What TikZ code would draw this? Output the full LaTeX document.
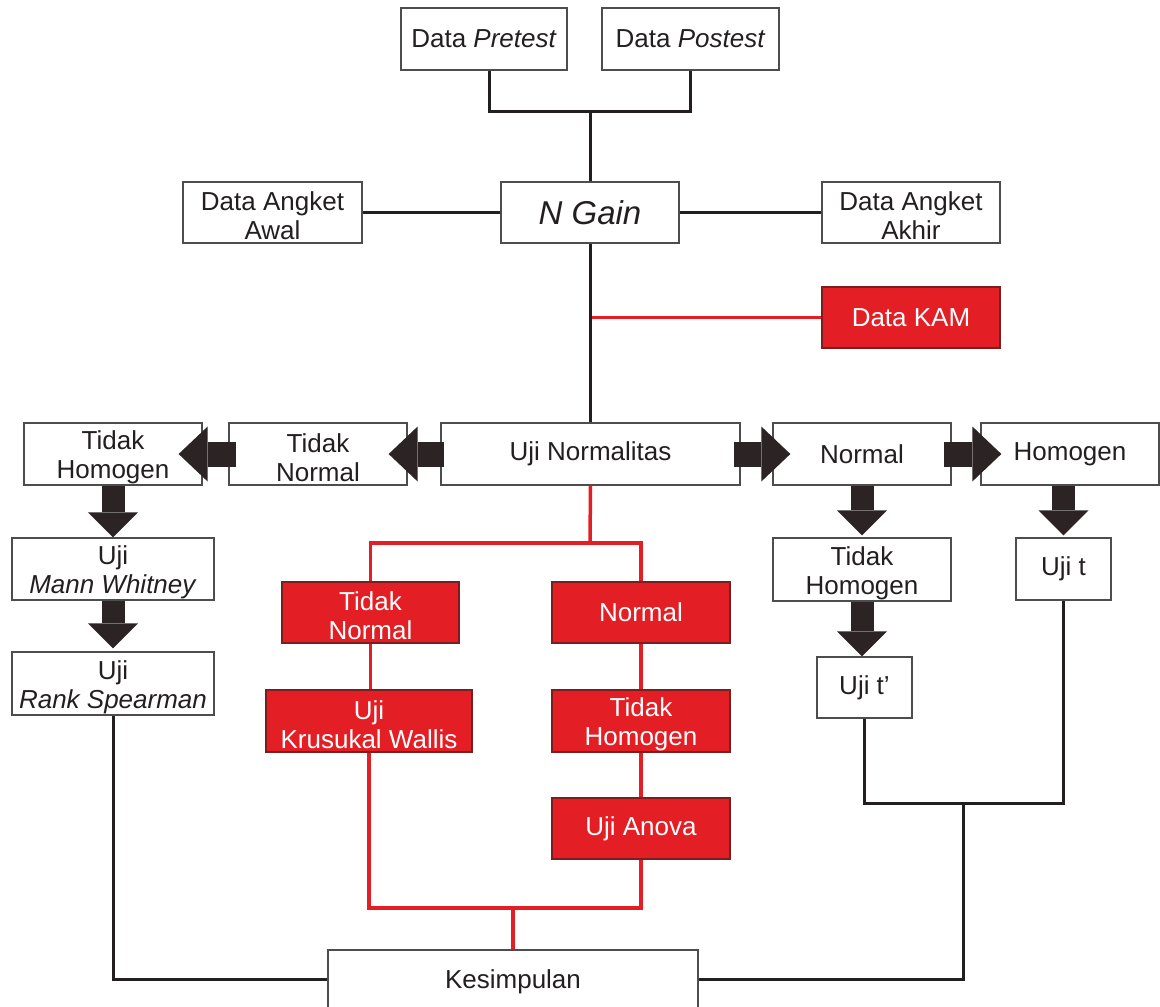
\documentclass[tikz,border=0pt]{standalone}
\usepackage{fontspec}
\setmainfont{Liberation Sans}
\usetikzlibrary{arrows.meta,calc}
\definecolor{ink}{HTML}{231F20}
\definecolor{boxline}{HTML}{4D4D4D}
\definecolor{kred}{HTML}{E31E24}
\definecolor{kredline}{HTML}{7A1F1F}
\definecolor{fatc}{HTML}{2B2324}
\begin{document}
\begin{tikzpicture}[x=1pt,y=-1pt,
  box/.style={draw=boxline, line width=1.3pt, fill=white, text=ink, align=center,
    inner sep=0pt, font=\fontsize{26}{29}\selectfont},
  redbox/.style={box, draw=kredline, fill=kred, text=white},
  % two-line captions sit slightly below the box centre
  lbl/.style={align=center, inner sep=0pt, yshift=-3.5pt, text=ink,
    font=\fontsize{26}{29}\selectfont},
  lblw/.style={lbl, text=white},
  blk/.style={draw=ink, line width=3pt},
  rl/.style={draw=kred, line width=3.5pt},
  fatH/.style={draw=fatc, line width=25pt, -{Triangle[length=29pt,width=55pt,line width=0pt]}},
  fatV/.style={draw=fatc, line width=23pt, -{Triangle[length=25pt,width=50pt,line width=0pt]}},
]
\useasboundingbox (0,0) rectangle (1160,1007);
\fill[white] (0,0) rectangle (1160,1007);

% top row
\node[box, minimum width=166pt, minimum height=62pt] (pre)  at (484,39)   {Data \textit{Pretest}};
\node[box, minimum width=177pt, minimum height=62pt] (post) at (690.5,39) {Data \textit{Postest}};

% N Gain row
\node[box, minimum width=178pt, minimum height=61pt] (ngain) at (590,212.5)
  {\fontsize{33}{40}\selectfont\itshape N Gain};
\node[box, minimum width=179pt, minimum height=61pt,
  label={[lbl]center:{Data Angket\\Awal}}] (awal)  at (272.5,212.5) {};
\node[box, minimum width=178pt, minimum height=61pt,
  label={[lbl]center:{Data Angket\\Akhir}}] (akhir) at (911,212.5) {};
\node[redbox, minimum width=178pt, minimum height=61pt] (kam) at (911,317.5) {Data KAM};

% normality row
\node[box, minimum width=299pt, minimum height=62pt] (norm) at (590.5,454) {Uji Normalitas};
\node[box, minimum width=178pt, minimum height=62pt,
  label={[lbl]center:{Tidak\\Normal}}] (tnL) at (318,454) {};
\node[box, minimum width=178pt, minimum height=62pt,
  label={[lbl]center:{Tidak\\Homogen}}] (thL) at (113,454) {};
\node[box, minimum width=178pt, minimum height=62pt] (nR) at (862,454)  {Normal};
\node[box, minimum width=178pt, minimum height=62pt] (hR) at (1070,454) {Homogen};

% left column
\node[box, minimum width=202pt, minimum height=62pt,
  label={[lbl]center:{Uji\\\textit{Mann Whitney}}}] (mann) at (113,569) {};
\node[box, minimum width=202pt, minimum height=63pt,
  label={[lbl]center:{Uji\\\textit{Rank Spearman}}}] (rank) at (113,683.5) {};

% right columns
\node[box, minimum width=178pt, minimum height=63pt,
  label={[lbl]center:{Tidak\\Homogen}}] (thR) at (862,569.5) {};
\node[box, minimum width=95pt, minimum height=61pt] (ujitp) at (864.5,687.5) {Uji t’};
\node[box, minimum width=95pt, minimum height=62pt] (ujit)  at (1063.5,569)  {Uji t};

% red branch
\node[redbox, minimum width=177pt, minimum height=61pt,
  label={[lblw]center:{Tidak\\Normal}}] (rTN) at (370.5,612.5) {};
\node[redbox, minimum width=206pt, minimum height=62pt,
  label={[lblw]center:{Uji\\Krusukal Wallis}}] (rKW) at (369,721) {};
\node[redbox, minimum width=178pt, minimum height=61pt] (rN) at (641,612.5) {Normal};
\node[redbox, minimum width=178pt, minimum height=62pt,
  label={[lblw]center:{Tidak\\Homogen}}] (rTH) at (641,721) {};
\node[redbox, minimum width=178pt, minimum height=61pt] (rA) at (641,828.5) {Uji Anova};

% conclusion (runs off the lower edge)
\node[box, minimum width=370pt, minimum height=58pt,
  label={[lbl,yshift=0.5pt]center:Kesimpulan}] (kes) at (513,979) {};

% black connectors
\coordinate (jtop) at (590,111);
\draw[blk] ([xshift=5pt]pre.south) |- (post.south |- jtop) -- (post.south);
\draw[blk] (jtop) -- (ngain.north);
\draw[blk] (awal) -- (ngain);
\draw[blk] (ngain) -- (akhir);
\draw[blk] (ngain.south) -- (ngain.south |- norm.north);

% red connectors
\coordinate (jkam) at (591.5,317.5);
\draw[rl] (jkam) -- (kam.west);
\coordinate (rsplit) at (590,543);
\draw[rl] (norm.south) -- (rsplit);
\draw[rl] (rTN.north) |- (rsplit) -| (rN.north);
\draw[rl] (rTN.south) -- (rTN.south |- rKW.north);
\draw[rl] (rN) -- (rTH);
\draw[rl] (rTH) -- (rA);
\coordinate (rjoin) at (513,908);
\draw[rl] (rKW.south) |- (rjoin) -| (rA.south);
\draw[rl] (rjoin) -- (kes.north);

% black connectors to the conclusion
\draw[blk] (rank.south) |- (kes.west);
\coordinate (bjoin) at (963,803);
\draw[blk] (ujitp.south) |- (bjoin) -| (ujit.south);
\draw[blk] (bjoin) |- (kes.east);

% thick block arrows
\draw[fatH] ([xshift=4pt]norm.west) -- ([xshift=-19pt]tnL.east);
\draw[fatH] ([xshift=8pt]tnL.west) -- ([xshift=-24pt]thL.east);
\draw[fatH] ([xshift=-7pt]norm.east) -- ([xshift=18pt]nR.west);
\draw[fatH] ([xshift=-8pt]nR.east) -- ([xshift=21pt]hR.west);
\draw[fatV] (thL.south) -- (mann.north);
\draw[fatV] (mann.south) -- ([yshift=3pt]rank.north);
\draw[fatV] (nR.south) -- ([yshift=2pt]thR.north);
\draw[fatV] (thR.south) -- (thR.south |- ujitp.north);
\draw[fatV] (ujit.north |- hR.south) -- ([yshift=2pt]ujit.north);
\end{tikzpicture}
\end{document}
